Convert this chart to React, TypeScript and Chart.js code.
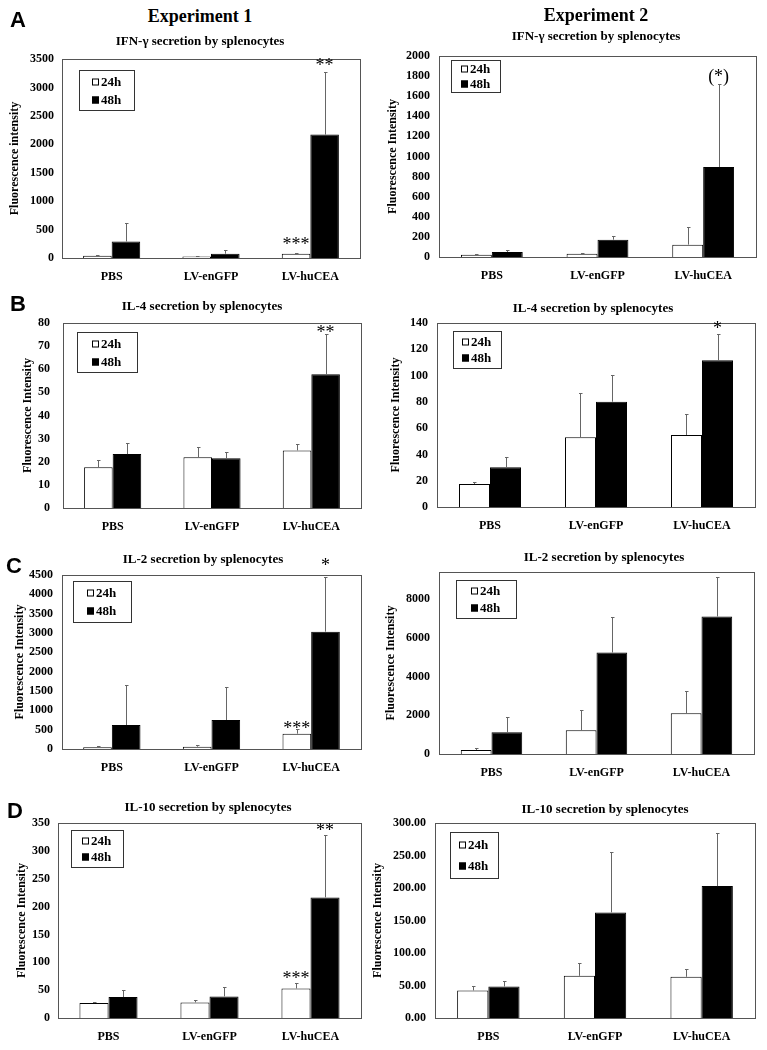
import React, { useEffect, useRef } from 'react';
import { Chart, registerables } from 'chart.js';

Chart.register(...registerables);

const SERIF = '"Liberation Serif", "Times New Roman", Times, serif';
const SANS = '"Liberation Sans", Arial, Helvetica, sans-serif';

// ---------------- data ----------------
const categories = ['PBS', 'LV-enGFP', 'LV-huCEA'];
const seriesLabels = ['24h', '48h'];

// IFN-gamma, Experiment 1
const ifnExp1H24 = [40, 25, 75];
const ifnExp1H24Err = [12, 5, 15];
const ifnExp1H48 = [290, 75, 2170];
const ifnExp1H48Err = [325, 72, 1110];
const ifnExp1Ticks = [0, 500, 1000, 1500, 2000, 2500, 3000, 3500];

// IFN-gamma, Experiment 2
const ifnExp2H24 = [22, 33, 123];
const ifnExp2H24Err = [3, 10, 175];
const ifnExp2H48 = [50, 172, 895];
const ifnExp2H48Err = [23, 33, 830];
const ifnExp2Ticks = [0, 200, 400, 600, 800, 1000, 1200, 1400, 1600, 1800, 2000];

// IL-4, Experiment 1
const il4Exp1H24 = [17.6, 21.9, 24.9];
const il4Exp1H24Err = [3.3, 4.3, 2.8];
const il4Exp1H48 = [23.3, 21.5, 57.8];
const il4Exp1H48Err = [4.8, 2.7, 17.4];
const il4Exp1Ticks = [0, 10, 20, 30, 40, 50, 60, 70, 80];

// IL-4, Experiment 2
const il4Exp2H24 = [17.5, 53, 54.8];
const il4Exp2H24Err = [1.8, 33.7, 16];
const il4Exp2H48 = [30.2, 80.1, 111.6];
const il4Exp2H48Err = [7.6, 20.3, 20.3];
const il4Exp2Ticks = [0, 20, 40, 60, 80, 100, 120, 140];

// IL-2, Experiment 1
const il2Exp1H24 = [43, 60, 396];
const il2Exp1H24Err = [26, 43, 113];
const il2Exp1H48 = [620, 750, 3034];
const il2Exp1H48Err = [1035, 862, 1406];
const il2Exp1Ticks = [0, 500, 1000, 1500, 2000, 2500, 3000, 3500, 4000, 4500];

// IL-2, Experiment 2 (axis top above the last labelled tick)
const il2Exp2H24 = [207, 1224, 2103];
const il2Exp2H24Err = [103, 1052, 1173];
const il2Exp2H48 = [1121, 5241, 7103];
const il2Exp2H48Err = [776, 1828, 2018];
const il2Exp2Ticks = [0, 2000, 4000, 6000, 8000];
const il2Exp2Max = 9400;

// IL-10, Experiment 1
const il10Exp1H24 = [26.8, 28, 53];
const il10Exp1H24Err = [1.8, 4.8, 10.7];
const il10Exp1H48 = [37.6, 38.8, 216.5];
const il10Exp1H48Err = [11.9, 16.7, 111.5];
const il10Exp1Ticks = [0, 50, 100, 150, 200, 250, 300, 350];

// IL-10, Experiment 2
const il10Exp2H24 = [42.4, 64.9, 63.4];
const il10Exp2H24Err = [7.2, 19.4, 12.2];
const il10Exp2H48 = [48.5, 162.5, 202.9];
const il10Exp2H48Err = [8.7, 93, 82.1];
const il10Exp2Ticks = [0, 50, 100, 150, 200, 250, 300];

// ---------------- layout ----------------
const columns = [
  { left: 0, width: 372 },
  { left: 366, width: 401 },
];
const rows = [
  { top: 26, height: 266 },
  { top: 292, height: 253 },
  { top: 545, height: 247 },
  { top: 792, height: 258 },
];

type Star = { series: number; cat: number; text: string; dy: number };
type Spec = {
  title: string;
  yTitle: string;
  h24: number[];
  h24Err: number[];
  h48: number[];
  h48Err: number[];
  ticks: number[];
  max?: number;
  decimals: number;
  stars: Star[];
  col: number;
  row: number;
  frame: number[];
  titleAt: number[];
  yTitleX: number;
  tickPad: number;
  legendBox: number[];
  catPct: number;
};

const specs: Spec[] = [
  {
    title: 'IFN-γ secretion by splenocytes', yTitle: 'Fluorescence intensity',
    h24: ifnExp1H24, h24Err: ifnExp1H24Err, h48: ifnExp1H48, h48Err: ifnExp1H48Err,
    ticks: ifnExp1Ticks, decimals: 0,
    stars: [{ series: 1, cat: 2, text: '**', dy: 8 }, { series: 0, cat: 2, text: '***', dy: 11 }],
    col: 0, row: 0, frame: [62, 59, 360, 258], titleAt: [200, 42], yTitleX: 15, tickPad: 8,
    legendBox: [79, 70, 134, 110], catPct: 0.575,
  },
  {
    title: 'IFN-γ secretion by splenocytes', yTitle: 'Fluorescence Intensity',
    h24: ifnExp2H24, h24Err: ifnExp2H24Err, h48: ifnExp2H48, h48Err: ifnExp2H48Err,
    ticks: ifnExp2Ticks, decimals: 0,
    stars: [{ series: 1, cat: 2, text: '(*)', dy: 6 }],
    col: 1, row: 0, frame: [439, 56, 756, 257], titleAt: [596, 37], yTitleX: 393, tickPad: 9,
    legendBox: [451, 60, 500, 92], catPct: 0.585,
  },
  {
    title: 'IL-4 secretion by splenocytes', yTitle: 'Fluorescence Intensity',
    h24: il4Exp1H24, h24Err: il4Exp1H24Err, h48: il4Exp1H48, h48Err: il4Exp1H48Err,
    ticks: il4Exp1Ticks, decimals: 0,
    stars: [{ series: 1, cat: 2, text: '**', dy: 4 }],
    col: 0, row: 1, frame: [63, 323, 361, 508], titleAt: [202, 307], yTitleX: 28, tickPad: 13,
    legendBox: [77, 332, 137, 372], catPct: 0.575,
  },
  {
    title: 'IL-4 secretion by splenocytes', yTitle: 'Fluorescence Intensity',
    h24: il4Exp2H24, h24Err: il4Exp2H24Err, h48: il4Exp2H48, h48Err: il4Exp2H48Err,
    ticks: il4Exp2Ticks, decimals: 0,
    stars: [{ series: 1, cat: 2, text: '*', dy: 7 }],
    col: 1, row: 1, frame: [437, 323, 755, 507], titleAt: [593, 309], yTitleX: 396, tickPad: 9,
    legendBox: [453, 331, 501, 368], catPct: 0.585,
  },
  {
    title: 'IL-2 secretion by splenocytes', yTitle: 'Fluorescence Intensity',
    h24: il2Exp1H24, h24Err: il2Exp1H24Err, h48: il2Exp1H48, h48Err: il2Exp1H48Err,
    ticks: il2Exp1Ticks, decimals: 0,
    stars: [{ series: 1, cat: 2, text: '*', dy: 14 }, { series: 0, cat: 2, text: '***', dy: 3 }],
    col: 0, row: 2, frame: [62, 575, 361, 749], titleAt: [203, 560], yTitleX: 20, tickPad: 9,
    legendBox: [73, 581, 131, 622], catPct: 0.575,
  },
  {
    title: 'IL-2 secretion by splenocytes', yTitle: 'Fluorescence Intensity',
    h24: il2Exp2H24, h24Err: il2Exp2H24Err, h48: il2Exp2H48, h48Err: il2Exp2H48Err,
    ticks: il2Exp2Ticks, max: il2Exp2Max, decimals: 0,
    stars: [],
    col: 1, row: 2, frame: [439, 572, 754, 754], titleAt: [604, 558], yTitleX: 391, tickPad: 9,
    legendBox: [456, 580, 516, 618], catPct: 0.585,
  },
  {
    title: 'IL-10 secretion by splenocytes', yTitle: 'Fluorescence Intensity',
    h24: il10Exp1H24, h24Err: il10Exp1H24Err, h48: il10Exp1H48, h48Err: il10Exp1H48Err,
    ticks: il10Exp1Ticks, decimals: 0,
    stars: [{ series: 1, cat: 2, text: '**', dy: 7 }, { series: 0, cat: 2, text: '***', dy: 6 }],
    col: 0, row: 3, frame: [58, 823, 361, 1018], titleAt: [208, 808], yTitleX: 22, tickPad: 8,
    legendBox: [71, 830, 123, 867], catPct: 0.575,
  },
  {
    title: 'IL-10 secretion by splenocytes', yTitle: 'Fluorescence Intensity',
    h24: il10Exp2H24, h24Err: il10Exp2H24Err, h48: il10Exp2H48, h48Err: il10Exp2H48Err,
    ticks: il10Exp2Ticks, decimals: 2,
    stars: [],
    col: 1, row: 3, frame: [435, 823, 755, 1018], titleAt: [605, 810], yTitleX: 378, tickPad: 9,
    legendBox: [450, 832, 498, 878], catPct: 0.585,
  },
];

const headers = [
  { text: 'Experiment 1', x: 200, y: 16 },
  { text: 'Experiment 2', x: 596, y: 15 },
];
const letters = [
  { text: 'A', x: 18, y: 20 },
  { text: 'B', x: 18, y: 304 },
  { text: 'C', x: 14, y: 566 },
  { text: 'D', x: 15, y: 811 },
];

function Panel({ spec }: { spec: Spec }) {
  const ref = useRef<HTMLCanvasElement | null>(null);
  const col = columns[spec.col];
  const row = rows[spec.row];

  useEffect(() => {
    if (!ref.current) return;
    const cx = col.left;
    const cy = row.top;
    const [fl, ft, fr, fb] = spec.frame;
    const yTitleSize = 12;
    const padL = spec.yTitleX - cx - (yTitleSize * 1.2) / 2;
    const yW = fl - cx - padL;
    const padR = cx + col.width - fr;
    const padT = ft - cy;
    const xH = cy + row.height - fb;
    const ymin = spec.ticks[0];
    const ymax = spec.max ?? spec.ticks[spec.ticks.length - 1];

    const deco = {
      id: 'deco',
      afterDatasetsDraw(chart: any) {
        const ctx = chart.ctx as CanvasRenderingContext2D;
        const ys = chart.scales.y;
        const area = chart.chartArea;
        ctx.save();
        // error bars (upper only)
        const errs = [spec.h24Err, spec.h48Err];
        chart.data.datasets.forEach((ds: any, di: number) => {
          const meta = chart.getDatasetMeta(di);
          meta.data.forEach((el: any, i: number) => {
            const v = ds.data[i] as number;
            const top = Math.round(ys.getPixelForValue(v + errs[di][i])) + 0.5;
            const x = Math.round(el.x) + 0.5;
            ctx.strokeStyle = '#666';
            ctx.lineWidth = 1;
            ctx.beginPath();
            ctx.moveTo(x, el.y);
            ctx.lineTo(x, top);
            ctx.moveTo(x - 1.5, top);
            ctx.lineTo(x + 2, top);
            ctx.stroke();
          });
        });
        // plot frame
        ctx.strokeStyle = '#555';
        ctx.lineWidth = 1;
        ctx.strokeRect(
          Math.round(area.left) + 0.5,
          Math.round(area.top) + 0.5,
          Math.round(area.right - area.left),
          Math.round(area.bottom - area.top)
        );
        // significance marks
        ctx.fillStyle = '#000';
        ctx.textAlign = 'center';
        ctx.textBaseline = 'middle';
        spec.stars.forEach((s) => {
          const el = chart.getDatasetMeta(s.series).data[s.cat] as any;
          const v = (s.series === 0 ? spec.h24 : spec.h48)[s.cat];
          const e = (s.series === 0 ? spec.h24Err : spec.h48Err)[s.cat];
          const top = ys.getPixelForValue(v + e);
          ctx.font = `18px ${SERIF}`;
          const adj = s.text === '(*)' ? 0 : 3;
          ctx.fillText(s.text, el.x, top - s.dy + adj);
        });
        // legend
        const [bl, bt, br, bb] = [
          spec.legendBox[0] - cx,
          spec.legendBox[1] - cy,
          spec.legendBox[2] - cx,
          spec.legendBox[3] - cy,
        ];
        ctx.fillStyle = '#fff';
        ctx.fillRect(bl, bt, br - bl, bb - bt);
        ctx.strokeStyle = '#333';
        ctx.strokeRect(bl + 0.5, bt + 0.5, br - bl, bb - bt);
        ctx.font = `bold 13px ${SERIF}`;
        const tw = ctx.measureText(seriesLabels[0]).width;
        const sq = 7;
        const gap = 2;
        const x0 = Math.round((bl + br) / 2 - (sq + gap + tw) / 2);
        const rowsY = [bt + (bb - bt) * 0.29, bt + (bb - bt) * 0.74];
        ctx.textAlign = 'left';
        ctx.textBaseline = 'middle';
        seriesLabels.forEach((lab, i) => {
          const y = Math.round(rowsY[i]);
          ctx.fillStyle = i === 0 ? '#fff' : '#000';
          ctx.fillRect(x0, y - 3.5, sq, sq);
          ctx.strokeStyle = '#000';
          ctx.strokeRect(x0 + 0.5, y - 3.5 + 0.5, sq - 1, sq - 1);
          ctx.fillStyle = '#000';
          ctx.fillText(lab, x0 + sq + gap, y + 1);
        });
        // panel title
        ctx.font = `bold 13px ${SERIF}`;
        ctx.textAlign = 'center';
        ctx.textBaseline = 'middle';
        ctx.fillStyle = '#000';
        ctx.fillText(spec.title, spec.titleAt[0] - cx, spec.titleAt[1] - cy);
        ctx.restore();
      },
    };

    const chart = new Chart(ref.current, {
      type: 'bar',
      data: {
        labels: categories,
        datasets: [
          {
            label: seriesLabels[0],
            data: spec.h24,
            backgroundColor: '#fff',
            borderColor: '#000',
            borderWidth: 1,
            categoryPercentage: spec.catPct,
            barPercentage: 1,
          },
          {
            label: seriesLabels[1],
            data: spec.h48,
            backgroundColor: '#000',
            borderColor: '#000',
            borderWidth: 1,
            categoryPercentage: spec.catPct,
            barPercentage: 1,
          },
        ],
      },
      options: {
        responsive: false,
        animation: false,
        events: [],
        layout: { padding: { left: padL, right: padR, top: padT, bottom: 0 } },
        plugins: {
          legend: { display: false },
          tooltip: { enabled: false },
          title: { display: false },
        },
        scales: {
          x: {
            grid: { display: false, drawTicks: false },
            border: { display: false },
            ticks: {
              font: { family: SERIF, size: 12, weight: 'bold' },
              color: '#000',
              padding: 12,
              maxRotation: 0,
              autoSkip: false,
            },
            afterFit: (s: any) => {
              s.height = xH;
            },
          },
          y: {
            min: ymin,
            max: ymax,
            grid: { display: false, drawTicks: false },
            border: { display: false },
            ticks: {
              padding: spec.tickPad,
              autoSkip: false,
              font: { family: SERIF, size: 12, weight: 'bold' },
              color: '#000',
              callback: (v: any) => Number(v).toFixed(spec.decimals),
            },
            afterBuildTicks: (s: any) => {
              s.ticks = spec.ticks.map((v) => ({ value: v }));
            },
            title: {
              display: true,
              text: spec.yTitle,
              font: { family: SERIF, size: yTitleSize, weight: 'bold' },
              color: '#000',
              padding: 0,
            },
            afterFit: (s: any) => {
              s.width = yW;
            },
          },
        },
      } as any,
      plugins: [deco],
    });
    return () => chart.destroy();
  }, [spec]);

  return (
    <canvas
      ref={ref}
      width={col.width}
      height={row.height}
      style={{ position: 'absolute', left: col.left, top: row.top, width: col.width, height: row.height }}
    />
  );
}

export default function App() {
  return (
    <div style={{ position: 'absolute', left: 0, top: 0, width: 767, height: 1050, background: '#fff', overflow: 'hidden' }}>
      {specs.map((s, i) => (
        <Panel key={i} spec={s} />
      ))}
      {headers.map((h, i) => (
        <div
          key={'h' + i}
          style={{
            position: 'absolute', left: h.x, top: h.y, transform: 'translate(-50%, -50%)',
            fontFamily: SERIF, fontWeight: 'bold', fontSize: 18, whiteSpace: 'nowrap', lineHeight: 1, color: '#000',
          }}
        >
          {h.text}
        </div>
      ))}
      {letters.map((l, i) => (
        <div
          key={'l' + i}
          style={{
            position: 'absolute', left: l.x, top: l.y, transform: 'translate(-50%, -50%)',
            fontFamily: SANS, fontWeight: 'bold', fontSize: 22, lineHeight: 1, color: '#000',
          }}
        >
          {l.text}
        </div>
      ))}
    </div>
  );
}
